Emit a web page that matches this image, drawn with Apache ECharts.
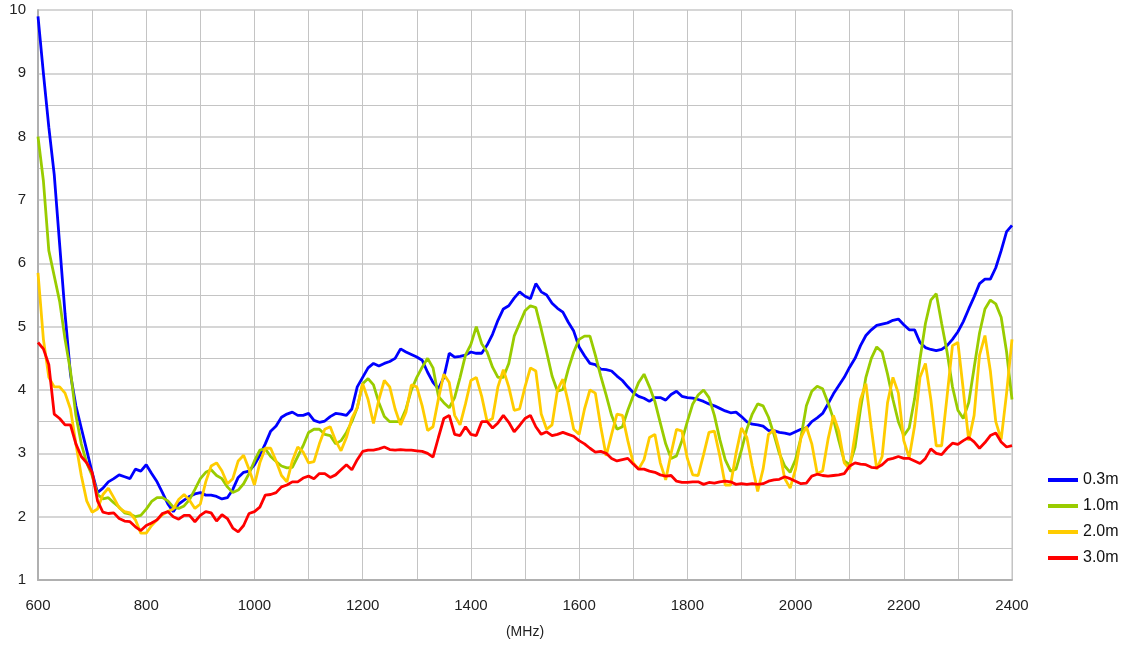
<!DOCTYPE html>
<html>
<head>
<meta charset="utf-8">
<script src="https://cdn.jsdelivr.net/npm/echarts@6/dist/echarts.min.js"></script>
<style>
html,body{margin:0;padding:0;background:#fff;}
#chart{width:1129px;height:645px;}
</style>
</head>
<body>
<div id="chart"></div>
<script>
const freq = [600,610,620,630,640,650,660,670,680,690,700,710,720,730,740,750,760,770,780,790,800,810,820,830,840,850,860,870,880,890,900,910,920,930,940,950,960,970,980,990,1000,1010,1020,1030,1040,1050,1060,1070,1080,1090,1100,1110,1120,1130,1140,1150,1160,1170,1180,1190,1200,1210,1220,1230,1240,1250,1260,1270,1280,1290,1300,1310,1320,1330,1340,1350,1360,1370,1380,1390,1400,1410,1420,1430,1440,1450,1460,1470,1480,1490,1500,1510,1520,1530,1540,1550,1560,1570,1580,1590,1600,1610,1620,1630,1640,1650,1660,1670,1680,1690,1700,1710,1720,1730,1740,1750,1760,1770,1780,1790,1800,1810,1820,1830,1840,1850,1860,1870,1880,1890,1900,1910,1920,1930,1940,1950,1960,1970,1980,1990,2000,2010,2020,2030,2040,2050,2060,2070,2080,2090,2100,2110,2120,2130,2140,2150,2160,2170,2180,2190,2200,2210,2220,2230,2240,2250,2260,2270,2280,2290,2300,2310,2320,2330,2340,2350,2360,2370,2380,2390,2400];

const names = ['0.3m','1.0m','2.0m','3.0m'];

const s03 = [9.9,9.0,8.15,7.4,6.3,5.2,4.25,3.75,3.4,3.05,2.7,2.38,2.45,2.55,2.6,2.66,2.63,2.6,2.75,2.72,2.82,2.68,2.55,2.38,2.2,2.08,2.2,2.26,2.32,2.36,2.38,2.34,2.34,2.32,2.28,2.3,2.43,2.62,2.7,2.72,2.82,2.97,3.15,3.35,3.43,3.57,3.62,3.65,3.6,3.6,3.63,3.52,3.49,3.51,3.58,3.63,3.62,3.6,3.7,4.05,4.2,4.35,4.42,4.38,4.42,4.45,4.5,4.65,4.6,4.56,4.52,4.47,4.28,4.12,4.02,4.2,4.58,4.52,4.53,4.55,4.6,4.58,4.58,4.71,4.88,5.1,5.28,5.33,5.45,5.55,5.48,5.44,5.68,5.55,5.5,5.37,5.29,5.23,5.07,4.93,4.68,4.54,4.42,4.4,4.33,4.32,4.3,4.22,4.15,4.05,3.96,3.9,3.87,3.82,3.88,3.88,3.84,3.93,3.98,3.9,3.88,3.87,3.85,3.82,3.78,3.75,3.71,3.67,3.64,3.65,3.58,3.5,3.46,3.45,3.43,3.36,3.36,3.33,3.32,3.3,3.34,3.38,3.4,3.5,3.56,3.63,3.78,3.94,4.07,4.2,4.36,4.5,4.7,4.86,4.95,5.02,5.04,5.06,5.1,5.12,5.03,4.95,4.95,4.75,4.67,4.64,4.62,4.64,4.7,4.8,4.92,5.08,5.28,5.47,5.68,5.75,5.75,5.93,6.2,6.5,6.6];

const s10 = [8.0,7.3,6.2,5.8,5.4,4.8,4.3,3.6,3.15,2.85,2.65,2.35,2.28,2.3,2.22,2.15,2.06,2.04,2.0,2.02,2.12,2.24,2.3,2.3,2.25,2.15,2.13,2.17,2.27,2.43,2.6,2.7,2.74,2.65,2.6,2.47,2.38,2.42,2.52,2.68,2.88,3.05,3.07,2.95,2.87,2.8,2.77,2.78,2.95,3.12,3.33,3.38,3.38,3.3,3.28,3.15,3.2,3.33,3.5,3.72,4.1,4.18,4.08,3.8,3.58,3.5,3.5,3.5,3.7,4.0,4.2,4.36,4.5,4.35,3.9,3.8,3.72,3.88,4.2,4.55,4.72,5.0,4.73,4.6,4.36,4.2,4.2,4.42,4.85,5.05,5.25,5.33,5.3,4.96,4.6,4.22,3.98,4.01,4.33,4.6,4.8,4.85,4.85,4.55,4.22,3.92,3.6,3.38,3.42,3.68,3.91,4.12,4.25,4.05,3.82,3.48,3.15,2.92,2.96,3.2,3.5,3.78,3.92,4.0,3.88,3.6,3.22,2.9,2.72,2.75,3.05,3.38,3.62,3.78,3.75,3.57,3.3,3.0,2.8,2.7,2.9,3.25,3.75,3.98,4.06,4.02,3.8,3.54,3.2,2.88,2.82,3.1,3.7,4.2,4.5,4.68,4.6,4.25,3.85,3.5,3.28,3.4,3.86,4.49,5.05,5.42,5.52,5.05,4.6,4.05,3.68,3.55,3.8,4.35,4.9,5.28,5.42,5.36,5.15,4.6,3.85];

const s20 = [5.85,4.8,4.2,4.05,4.05,3.95,3.7,3.15,2.65,2.25,2.07,2.12,2.35,2.45,2.3,2.14,2.08,2.06,1.95,1.74,1.74,1.86,1.95,2.03,2.08,2.12,2.27,2.35,2.26,2.13,2.2,2.55,2.8,2.85,2.72,2.52,2.6,2.88,2.97,2.75,2.5,2.85,3.08,3.08,2.88,2.65,2.55,2.88,3.1,3.02,2.85,2.87,3.15,3.38,3.42,3.2,3.04,3.25,3.55,3.72,4.1,3.85,3.47,3.85,4.15,4.05,3.7,3.45,3.65,4.08,4.05,3.75,3.36,3.42,3.86,4.25,4.12,3.6,3.45,3.78,4.15,4.2,3.9,3.5,3.55,4.05,4.32,4.05,3.68,3.7,4.05,4.35,4.3,3.62,3.38,3.45,4.0,4.17,3.8,3.38,3.3,3.7,4.0,3.95,3.42,2.96,3.3,3.62,3.6,3.2,2.85,2.75,2.9,3.25,3.3,2.85,2.58,3.0,3.38,3.35,2.92,2.66,2.65,2.98,3.33,3.35,2.96,2.5,2.5,3.0,3.4,3.25,2.8,2.4,2.75,3.3,3.37,3.05,2.6,2.45,2.75,3.25,3.42,3.15,2.68,2.72,3.22,3.6,3.35,2.85,2.75,3.3,3.85,4.1,3.4,2.75,2.95,3.8,4.2,3.95,3.2,2.93,3.43,4.2,4.42,3.85,3.12,3.12,3.9,4.7,4.75,4.0,3.2,3.6,4.55,4.86,4.3,3.5,3.22,3.95,4.8];

const s30 = [4.75,4.65,4.4,3.62,3.55,3.45,3.45,3.15,2.95,2.85,2.7,2.25,2.07,2.05,2.06,1.97,1.93,1.92,1.84,1.78,1.86,1.9,1.95,2.05,2.08,2.0,1.96,2.02,2.02,1.92,2.02,2.08,2.06,1.93,2.03,1.97,1.82,1.76,1.86,2.05,2.08,2.15,2.34,2.35,2.38,2.47,2.5,2.55,2.55,2.61,2.64,2.6,2.68,2.68,2.62,2.66,2.74,2.82,2.74,2.9,3.03,3.05,3.05,3.07,3.1,3.06,3.05,3.06,3.05,3.05,3.04,3.03,3.0,2.94,3.25,3.55,3.6,3.3,3.28,3.42,3.3,3.28,3.5,3.5,3.4,3.48,3.6,3.49,3.34,3.44,3.55,3.6,3.42,3.3,3.34,3.28,3.3,3.33,3.3,3.27,3.2,3.15,3.08,3.02,3.03,3.0,2.92,2.88,2.9,2.92,2.83,2.75,2.75,2.72,2.7,2.66,2.64,2.65,2.56,2.54,2.54,2.55,2.55,2.51,2.54,2.53,2.55,2.56,2.55,2.51,2.52,2.51,2.52,2.51,2.52,2.56,2.58,2.59,2.63,2.6,2.56,2.52,2.53,2.64,2.67,2.65,2.64,2.65,2.66,2.68,2.8,2.85,2.83,2.82,2.78,2.77,2.82,2.9,2.92,2.95,2.92,2.92,2.88,2.84,2.92,3.07,3.0,2.98,3.08,3.16,3.14,3.2,3.25,3.18,3.08,3.17,3.28,3.32,3.18,3.1,3.12];

const colors = ['#0000ff','#99cc00','#ffcc00','#ff0000'];
const seriesValues = [s03, s10, s20, s30];

const chart = echarts.init(document.getElementById('chart'), null, {renderer:'canvas'});
const font = '"Liberation Sans", Arial, Helvetica, sans-serif';

chart.setOption({
  animation: false,
  backgroundColor: '#ffffff',
  color: colors,
  grid: {left: 38, right: 117, top: 10, bottom: 65, show: true, borderColor: '#c0c0c0', borderWidth: 1,
         containLabel: false, outerBoundsMode: 'none'},
  legend: {
    orient: 'vertical', left: 1043, top: 467, itemWidth: 30, itemHeight: 4, itemGap: 10,
    icon: 'rect',
    textStyle: {fontFamily: font, fontSize: 16, color: '#111'},
    data: names
  },
  xAxis: {
    type: 'value', min: 600, max: 2400, interval: 200,
    name: '(MHz)', nameLocation: 'middle', nameGap: 45,
    nameTextStyle: {fontFamily: font, fontSize: 14, color: '#222'},
    axisLine: {show: true, lineStyle: {color: '#b0b0b0', width: 2}},
    axisTick: {show: false},
    axisLabel: {fontFamily: font, fontSize: 15, color: '#222', margin: 18,
                formatter: v => String(v)},
    splitLine: {show: true, lineStyle: {color: '#c4c4c4', width: 1}},
    minorTick: {show: false, splitNumber: 2},
    minorSplitLine: {show: true, lineStyle: {color: '#c4c4c4', width: 1}}
  },
  yAxis: {
    type: 'value', min: 1, max: 10, interval: 1,
    axisLine: {show: true, lineStyle: {color: '#b0b0b0', width: 2}},
    axisTick: {show: false},
    axisLabel: {fontFamily: font, fontSize: 15, color: '#222', margin: 12,
                formatter: v => String(v)},
    splitLine: {show: true, lineStyle: {color: '#d6d6d6', width: 2}},
    minorTick: {show: false, splitNumber: 2},
    minorSplitLine: {show: true, lineStyle: {color: '#c4c4c4', width: 1}}
  },
  series: names.map((n, i) => ({
    name: n,
    type: 'line',
    showSymbol: false,
    symbol: 'none',
    data: freq.map((f, j) => [f, seriesValues[i][j]]),
    lineStyle: {width: 2.8, color: colors[i]},
    itemStyle: {color: colors[i]}
  }))
});
</script>
</body>
</html>
